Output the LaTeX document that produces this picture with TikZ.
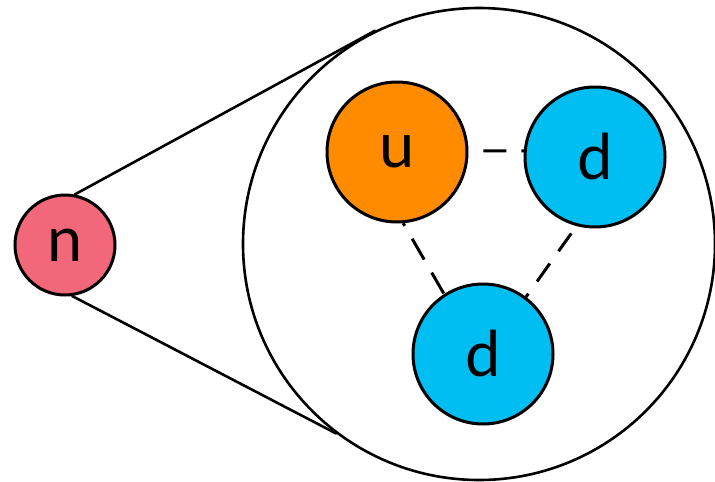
\documentclass[tikz,border=0pt]{standalone}
\usepackage{fontspec}
\setmainfont{Lato}
\definecolor{nred}{RGB}{242,104,122}
\definecolor{uorange}{RGB}{255,140,0}
\definecolor{dblue}{RGB}{0,189,242}
\tikzset{
  particle/.style={circle, draw=black, line width=3pt, inner sep=0pt,
    font=\fontsize{63}{63}\selectfont},
  hadron/.style={particle, minimum size=100pt},
  quark/.style={particle, minimum size=140pt},
  zoomring/.style={circle, draw=black, line width=2.6pt, minimum size=472pt, inner sep=0pt},
  rim/.style={line width=2.6pt, line cap=round},
  bond/.style={line width=3pt, dash pattern=on 23pt off 15pt}
}
\begin{document}
\begin{tikzpicture}[x=1pt, y=-1pt]
  \useasboundingbox (0,0) rectangle (715,482);

  % magnified view of the neutron
  \node[zoomring] (ring) at (479,244) {};

  % the neutron
  \node[hadron, fill=nred] (n) at (65,245) {n};

  % lines joining the neutron to its magnified view
  \draw[rim] (n.79) -- (ring.116);
  \draw[rim] (n.-82) -- (ring.-127);

  % quarks
  \node[quark, fill=uorange] (u) at (397,152) {u};
  \node[quark, fill=dblue] (d1) at (595,157) {d};
  \node[quark, fill=dblue] (d2) at (483,354) {d};

  % bonds between the quarks
  \draw[bond, dash phase=23pt] (u.1) -- (d1.175);
  \draw[bond, dash pattern=on 24pt off 15pt, dash phase=21pt] (u.-85) -- (d2.123);
  \draw[bond, dash pattern=on 22pt off 15pt, dash phase=28pt] (d1.-105) -- (d2.53);
\end{tikzpicture}
\end{document}
